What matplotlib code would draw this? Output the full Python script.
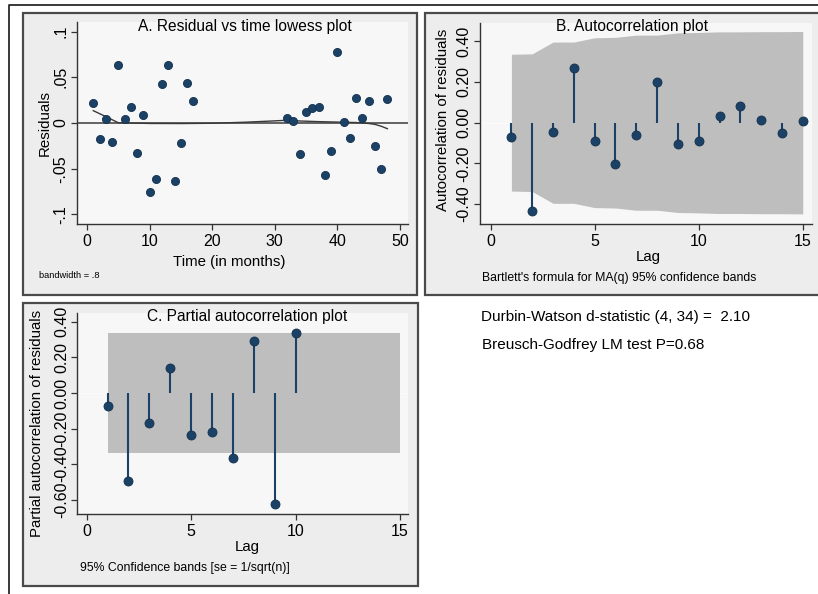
import matplotlib
matplotlib.use("Agg")
import matplotlib.pyplot as plt
from matplotlib.patches import Rectangle
from matplotlib.lines import Line2D

plt.rcParams['font.family'] = ['Liberation Sans', 'DejaVu Sans']

# ---------------- data ----------------
time_months = [1, 2, 3, 4, 5, 6, 7, 8, 9, 10, 11, 12, 13, 14, 15, 16, 17,
               32, 33, 34, 35, 36, 37, 38, 39, 40, 41, 42, 43, 44, 45, 46, 47, 48]
residuals = [0.0215, -0.0179, 0.004, -0.0212, 0.0639, 0.0044, 0.0175, -0.0325, 0.0088,
             -0.0759, -0.0617, 0.0431, 0.0631, -0.0635, -0.0223, 0.0438, 0.0245,
             0.0055, 0.0018, -0.0336, 0.012, 0.0168, 0.0179, -0.0573, -0.031, 0.0781,
             0.0007, -0.0168, 0.0277, 0.0051, 0.0237, -0.0256, -0.0504, 0.0263]
lowess_x = [1, 3, 5, 10, 15, 20, 25, 29, 32, 34, 37, 40, 43, 45, 46, 47, 48]
lowess_y = [0.0135, 0.007, 0.0003, -0.0005, -0.0006, -0.0003, 0.0008, 0.002, 0.003,
            0.0022, 0.0015, 0.001, 0.0005, -0.0005, -0.0015, -0.0035, -0.0062]

acf_lags = list(range(1, 16))
acf_values = [-0.0705, -0.434, -0.044, 0.270, -0.090, -0.202, -0.061, 0.200, -0.103,
              -0.0885, 0.0328, 0.080, 0.0148, -0.049, 0.0082]
acf_band = [0.336, 0.338, 0.396, 0.396, 0.417, 0.419, 0.430, 0.430, 0.441, 0.443,
            0.446, 0.446, 0.447, 0.447, 0.448]

pacf_lags = list(range(1, 11))
pacf_values = [-0.071, -0.497, -0.170, 0.140, -0.237, -0.217, -0.366, 0.292, -0.622, 0.336]
pacf_band_lags = [1, 15]
pacf_band = [0.336, 0.336]

a_xticks = [0, 10, 20, 30, 40, 50]
a_yticks = [-0.1, -0.05, 0, 0.05, 0.1]
a_yticklabels = ['-.1', '-.05', '0', '.05', '.1']
lag_ticks = [0, 5, 10, 15]
b_yticks = [-0.4, -0.2, 0.0, 0.2, 0.4]
c_yticks = [-0.6, -0.4, -0.2, 0.0, 0.2, 0.4]

# ---------------- style ----------------
W, H = 818, 594
NAVY = '#1b4266'
NAVY_EDGE = '#12304c'
BAND = '#bebebe'
PANEL_BG = '#ededed'
PLOT_BG = '#f7f7f7'
FRAME = '#4a4a4a'
LAB = 10.8

fig = plt.figure(figsize=(W / 100, H / 100), dpi=100)
fig.patch.set_facecolor('white')


def add_axes_px(x0, y0, x1, y1):
    ax = fig.add_axes([x0 / W, 1 - y1 / H, (x1 - x0) / W, (y1 - y0) / H])
    ax.set_zorder(2)
    return ax


def panel_box(x0, y0, x1, y1):
    fig.patches.append(Rectangle((x0 / W, 1 - y1 / H), (x1 - x0) / W, (y1 - y0) / H,
                                 transform=fig.transFigure, facecolor=PANEL_BG,
                                 edgecolor=FRAME, linewidth=1.6, zorder=-1))


def txt(x, y, s, **kw):
    fig.text(x / W, 1 - y / H, s, zorder=3, **kw)


# outer frame
fig.lines.append(Line2D([9.3 / W, 9.3 / W, 830 / W], [1 - 600 / H, 1 - 5 / H, 1 - 5 / H],
                        transform=fig.transFigure, color='#2a2a2a', lw=1.3, zorder=-1))

panel_box(22.7, 12.7, 417.3, 294.7)
panel_box(425.3, 13.3, 840, 294.7)
panel_box(22.7, 302.7, 418.3, 585.7)


def style_axes(ax):
    ax.set_facecolor(PLOT_BG)
    for s in ('top', 'right'):
        ax.spines[s].set_visible(False)
    for s in ('left', 'bottom'):
        ax.spines[s].set_color('#333333')
        ax.spines[s].set_linewidth(1.0)
    ax.tick_params(direction='out', length=4, width=0.9, color='#333333',
                   labelsize=11.5, labelcolor='black')
    ax.tick_params(axis='y', labelrotation=90, pad=2)
    ax.tick_params(axis='x', pad=3)
    for lab in ax.get_yticklabels():
        lab.set_va('center')


# ---------------- Panel A ----------------
axA = add_axes_px(77, 22, 408, 224)
axA.axhline(0, color='#3a3a3a', lw=1.1, zorder=1)
axA.plot(lowess_x, lowess_y, color='#3a3a3a', lw=1.0, zorder=2)
axA.scatter(time_months, residuals, s=34, color=NAVY, edgecolors=NAVY_EDGE,
            linewidths=0.6, zorder=3)
axA.set_xlim(-1.6, 51.3)
axA.set_ylim(-0.1105, 0.1105)
axA.set_xticks(a_xticks)
axA.set_yticks(a_yticks)
axA.set_yticklabels(a_yticklabels)
style_axes(axA)

txt(244.5, 26, 'A. Residual vs time lowess plot', ha='center', va='center', fontsize=11.2)
txt(45, 123, 'Residuals', ha='center', va='center', rotation=90, fontsize=LAB)
txt(229, 262, 'Time (in months)', ha='center', va='center', fontsize=LAB)
txt(39, 276, 'bandwidth = .8', ha='left', va='center', fontsize=6.7)

# ---------------- Panel B ----------------
axB = add_axes_px(480, 22.7, 811.7, 224.3)
axB.axhline(0, color='#fbfbfb', lw=0.8, zorder=0.5)
axB.fill_between(acf_lags, [-b for b in acf_band], acf_band, color=BAND, lw=0, zorder=1)
axB.vlines(acf_lags, 0, acf_values, color=NAVY, lw=1.5, zorder=2)
axB.scatter(acf_lags, acf_values, s=42, color=NAVY, edgecolors=NAVY_EDGE,
            linewidths=0.6, zorder=3)
axB.set_xlim(-0.51, 15.43)
axB.set_ylim(-0.499, 0.491)
axB.set_xticks(lag_ticks)
axB.set_yticks(b_yticks)
axB.set_yticklabels([f'{v:.2f}' for v in b_yticks])
style_axes(axB)

txt(632.5, 26, 'B. Autocorrelation plot', ha='center', va='center', fontsize=11.2)
txt(443, 120, 'Autocorrelation of residuals', ha='center', va='center', rotation=90,
    fontsize=LAB)
txt(648, 257, 'Lag', ha='center', va='center', fontsize=LAB)
txt(481.7, 278.3, "Bartlett's formula for MA(q) 95% confidence bands", ha='left',
    va='center', fontsize=8.8)

# ---------------- Panel C ----------------
axC = add_axes_px(77.3, 312.7, 408.3, 514)
axC.axhline(0, color='#fbfbfb', lw=0.8, zorder=0.5)
axC.fill_between(pacf_band_lags, [-b for b in pacf_band], pacf_band, color=BAND, lw=0,
                 zorder=1)
axC.vlines(pacf_lags, 0, pacf_values, color=NAVY, lw=1.5, zorder=2)
axC.scatter(pacf_lags, pacf_values, s=42, color=NAVY, edgecolors=NAVY_EDGE,
            linewidths=0.6, zorder=3)
axC.set_xlim(-0.45, 15.4)
axC.set_ylim(-0.68, 0.451)
axC.set_xticks(lag_ticks)
axC.set_yticks(c_yticks)
axC.set_yticklabels([f'{v:.2f}' for v in c_yticks])
style_axes(axC)

txt(246.7, 316, 'C. Partial autocorrelation plot', ha='center', va='center', fontsize=11.2)
txt(37, 423, 'Partial autocorrelation of residuals', ha='center', va='center',
    rotation=90, fontsize=LAB)
txt(247, 547, 'Lag', ha='center', va='center', fontsize=LAB)
txt(80, 568.3, '95% Confidence bands [se = 1/sqrt(n)]', ha='left', va='center',
    fontsize=8.8)

# ---------------- test statistics ----------------
txt(481, 316.7, 'Durbin-Watson d-statistic (4, 34) =  2.10', ha='left', va='center',
    fontsize=11)
txt(482, 345, 'Breusch-Godfrey LM test P=0.68', ha='left', va='center', fontsize=11)

fig.savefig('out.png', dpi=100)
